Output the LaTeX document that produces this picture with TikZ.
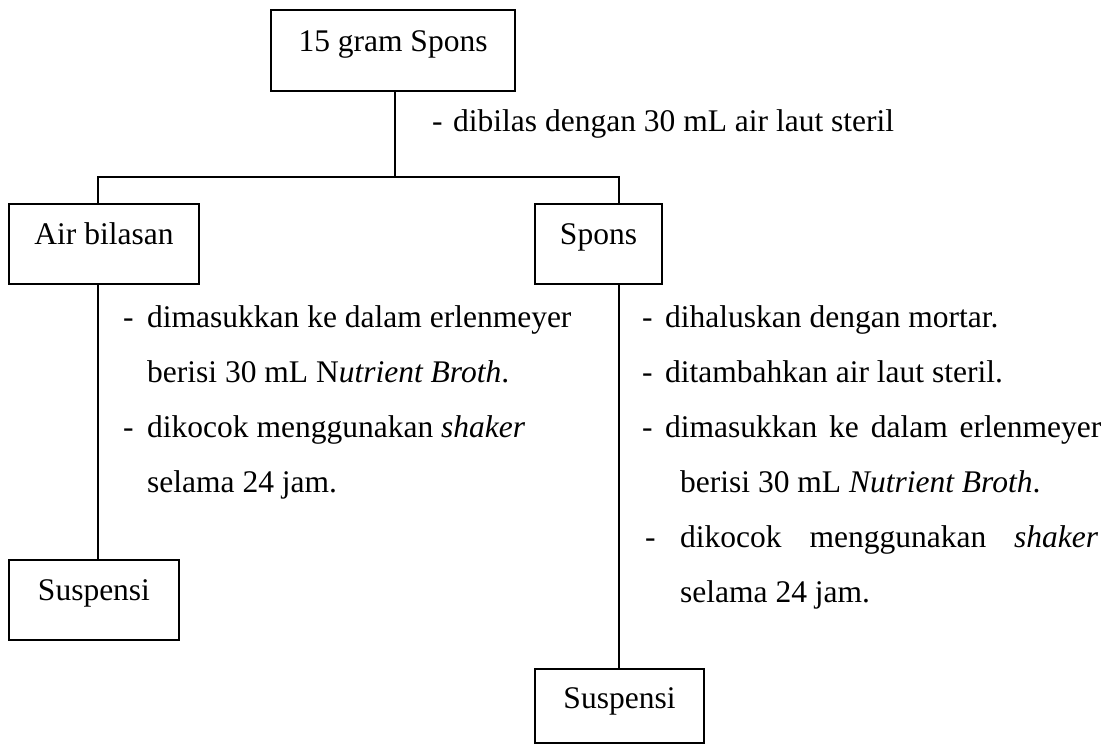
\documentclass[tikz,border=0pt]{standalone}
\usepackage{fontspec}
\setmainfont{Liberation Serif}
\begin{document}
\begin{tikzpicture}[x=1pt,y=-1pt,
  boxst/.style={draw,line width=2pt,inner sep=0pt,anchor=north west,align=center},
  txt/.style={inner sep=0pt,anchor=base west},
  conn/.style={line width=2pt}]
\fontsize{31.5}{55}\selectfont
\useasboundingbox (0,0) rectangle (1110,744);
% boxes
\node[boxst,minimum width=244pt,text height=41pt,text depth=40pt] (top) at (270,9) {15 gram Spons};
\node[boxst,minimum width=190pt,text height=40pt,text depth=40pt] (air) at (8,203) {Air bilasan};
\node[boxst,minimum width=127pt,text height=40pt,text depth=40pt] (spons) at (534,203) {Spons};
\node[boxst,minimum width=170pt,text height=40pt,text depth=40pt] (susL) at (8,559) {Suspensi};
\node[boxst,minimum width=169pt,text height=39pt,text depth=35pt] (susR) at (534,668) {Suspensi};
% junctions
\coordinate (j) at (395,177);
\coordinate (lt) at (98,177);
\coordinate (rt) at (619,177);
\draw[conn] (j |- top.south) -- (j);
\draw[conn] (lt |- air.north) -- (lt) -- (rt) -- (rt |- spons.north);
\draw[conn] (lt |- air.south) -- (lt |- susL.north);
\draw[conn] (rt |- spons.south) -- (rt |- susR.north);
% top label
\node[txt] (d0) at (432,131) {-};
\node[txt] (t0) at (453,131) {dibilas dengan 30 mL air laut steril};
% left list
\node[txt] (dL1) at (123,327) {-};
\node[txt] (tL1) at (147,327) {dimasukkan ke dalam erlenmeyer};
\node[txt] (tL2) at (147,382) {berisi 30 mL N\textit{utrient Broth}.};
\node[txt] (dL3) at (123,437) {-};
\node[txt] (tL3) at (147,437) {dikocok menggunakan \textit{shaker}};
\node[txt] (tL4) at (147,492) {selama 24 jam.};
% right list
\node[txt] (dR1) at (642,327) {-};
\node[txt] (tR1) at (665,327) {dihaluskan dengan mortar.};
\node[txt] (dR2) at (642,382) {-};
\node[txt] (tR2) at (665,382) {ditambahkan air laut steril.};
\node[txt] (dR3) at (642,437) {-};
\node[txt] (tR3) at (665,437) {\hbox to 436pt{dimasukkan\hfill ke\hfill dalam\hfill erlenmeyer}};
\node[txt] (tR4) at (680,492) {berisi 30 mL \textit{Nutrient Broth}.};
\node[txt] (dR5) at (645,547) {-};
\node[txt] (tR5) at (680,547) {\hbox to 418pt{dikocok\hfill menggunakan\hfill \textit{shaker}}};
\node[txt] (tR6) at (680,602) {selama 24 jam.};
\end{tikzpicture}
\end{document}
